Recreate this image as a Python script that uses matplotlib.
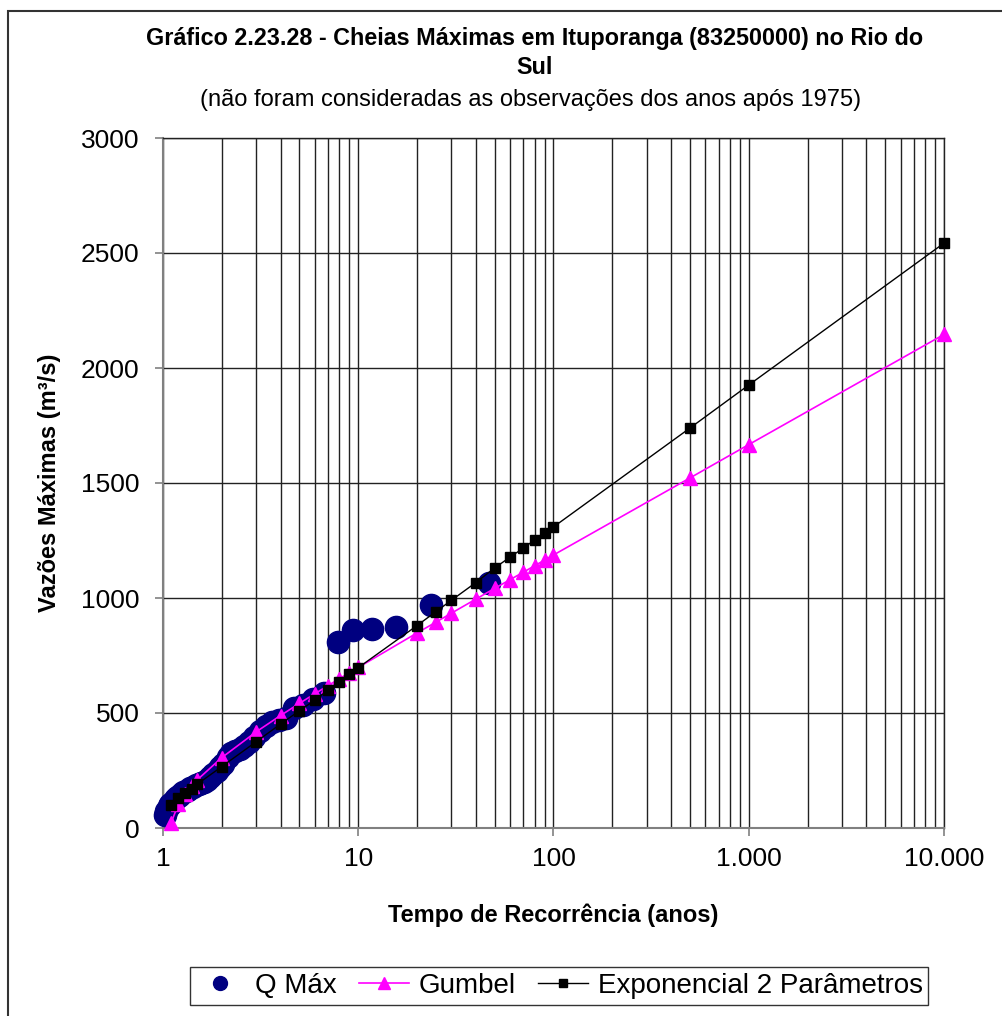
import matplotlib
matplotlib.use("Agg")
import matplotlib.pyplot as plt
from matplotlib.ticker import FixedLocator, FuncFormatter, NullFormatter
from matplotlib.patches import Rectangle

plt.rcParams['font.family'] = ['Liberation Sans', 'DejaVu Sans']

# Observed maxima (Q Máx): return period (years) and discharge (m3/s)
obs_T = [47.0, 23.5, 15.67, 11.75, 9.4, 7.83, 6.71, 5.88, 5.22, 4.7,
         4.27, 3.92, 3.62, 3.36, 3.13, 2.94, 2.76, 2.61, 2.47, 2.35,
         2.24, 2.14, 2.04, 1.96, 1.88, 1.81, 1.74, 1.68, 1.62, 1.57,
         1.52, 1.47, 1.42, 1.38, 1.34, 1.31, 1.27, 1.24, 1.21, 1.18,
         1.15, 1.12, 1.09, 1.07, 1.04, 1.02]
obs_Q = [1065, 970, 875, 865, 860, 808, 585, 560, 535, 520,
         480, 470, 460, 445, 420, 395, 375, 355, 345, 335,
         325, 310, 280, 265, 250, 235, 220, 210, 200, 195,
         190, 185, 178, 172, 165, 160, 155, 150, 140, 135,
         125, 115, 105, 95, 75, 55]

# Fitted distributions
fit_T = [1.1, 1.2, 1.3, 1.4, 1.5, 2, 3, 4, 5, 6, 7, 8, 9, 10,
         20, 25, 30, 40, 50, 60, 70, 80, 90, 100, 500, 1000, 10000]
gumbel_Q = [22, 105, 150, 183, 210, 306, 418, 489, 542, 584, 619, 649, 675, 698,
            848, 895, 934, 995, 1042, 1080, 1112, 1140, 1165, 1187, 1522, 1667, 2146]
expo_Q = [100, 130, 152, 170, 191, 267, 375, 452, 510, 556, 600, 636, 668, 697,
          880, 941, 990, 1067, 1131, 1178, 1217, 1252, 1283, 1309, 1739, 1926, 2543]

x_ticks = [1, 10, 100, 1000, 10000]
x_ticklabels = ['1', '10', '100', '1.000', '10.000']
y_ticks = [0, 500, 1000, 1500, 2000, 2500, 3000]

W, H = 1003, 1016
fig = plt.figure(figsize=(W / 100, H / 100), dpi=100)
ax = fig.add_axes([163 / W, 1 - 828 / H, (944 - 163) / W, (828 - 138) / H])

ax.plot(obs_T, obs_Q, linestyle='none', marker='o', ms=16, color='#000080',
        label='Q Máx', zorder=3, clip_on=False)
ax.plot(fit_T, gumbel_Q, color='#FF00FF', lw=1.2, marker='^', ms=9.5,
        label='Gumbel', zorder=4, clip_on=False)
ax.plot(fit_T, expo_Q, color='black', lw=1.0, marker='s', ms=7,
        label='Exponencial 2 Parâmetros', zorder=5, clip_on=False)

ax.set_xscale('log')
ax.set_xlim(1, 10000)
ax.set_ylim(0, 3000)
ax.xaxis.set_major_locator(FixedLocator(x_ticks))
ax.xaxis.set_major_formatter(FuncFormatter(
    lambda v, p: x_ticklabels[x_ticks.index(v)] if v in x_ticks else ''))
minors = [m * 10 ** d for d in range(4) for m in range(2, 10)]
ax.xaxis.set_minor_locator(FixedLocator(minors))
ax.xaxis.set_minor_formatter(NullFormatter())
ax.set_yticks(y_ticks)

ax.grid(True, which='both', axis='x', color='#222222', lw=1.0)
ax.grid(True, which='major', axis='y', color='#222222', lw=1.0)
ax.set_axisbelow(True)

for s in ['left', 'bottom']:
    ax.spines[s].set_color('#808080')
    ax.spines[s].set_linewidth(1.5)
for s in ['top', 'right']:
    ax.spines[s].set_color('#222222')
    ax.spines[s].set_linewidth(1.0)

ax.tick_params(axis='both', which='major', labelsize=19, length=6, width=1.2,
               color='#808080', direction='out')
ax.tick_params(axis='x', which='minor', length=0)
ax.tick_params(axis='x', pad=8)
ax.tick_params(axis='y', pad=11)

ax.set_xlabel('Tempo de Recorrência (anos)', fontsize=17, fontweight='bold', labelpad=23)
ax.set_ylabel('Vazões Máximas (m³/s)', fontsize=17, fontweight='bold', labelpad=14)

fig.text(535 / W, 1 - 38 / H,
         'Gráfico 2.23.28 - Cheias Máximas em Ituporanga (83250000) no Rio do',
         ha='center', va='center', fontsize=16.8, fontweight='bold')
fig.text(535 / W, 1 - 68 / H, 'Sul', ha='center', va='center',
         fontsize=16.8, fontweight='bold')
fig.text(531 / W, 1 - 100 / H,
         '(não foram consideradas as observações dos anos após 1975)',
         ha='center', va='center', fontsize=17)

leg = fig.legend(loc='center', bbox_to_anchor=(559 / W, 1 - 986 / H), ncol=3,
                 fontsize=20, frameon=True, fancybox=False, edgecolor='black',
                 handlelength=1.8, handletextpad=0.35, columnspacing=0.8,
                 borderpad=0.2, borderaxespad=0)
leg.get_frame().set_linewidth(1.0)
leg.legend_handles[0].set_markersize(10)
leg.legend_handles[1].set_markersize(8)
leg.legend_handles[2].set_markersize(5.5)

fig.patches.append(Rectangle((8 / W, -10 / H), 1100 / W, (1016 - 11 + 10) / H,
                             transform=fig.transFigure, fill=False,
                             edgecolor='#333333', lw=1.5))

fig.savefig('out.png', dpi=100)
